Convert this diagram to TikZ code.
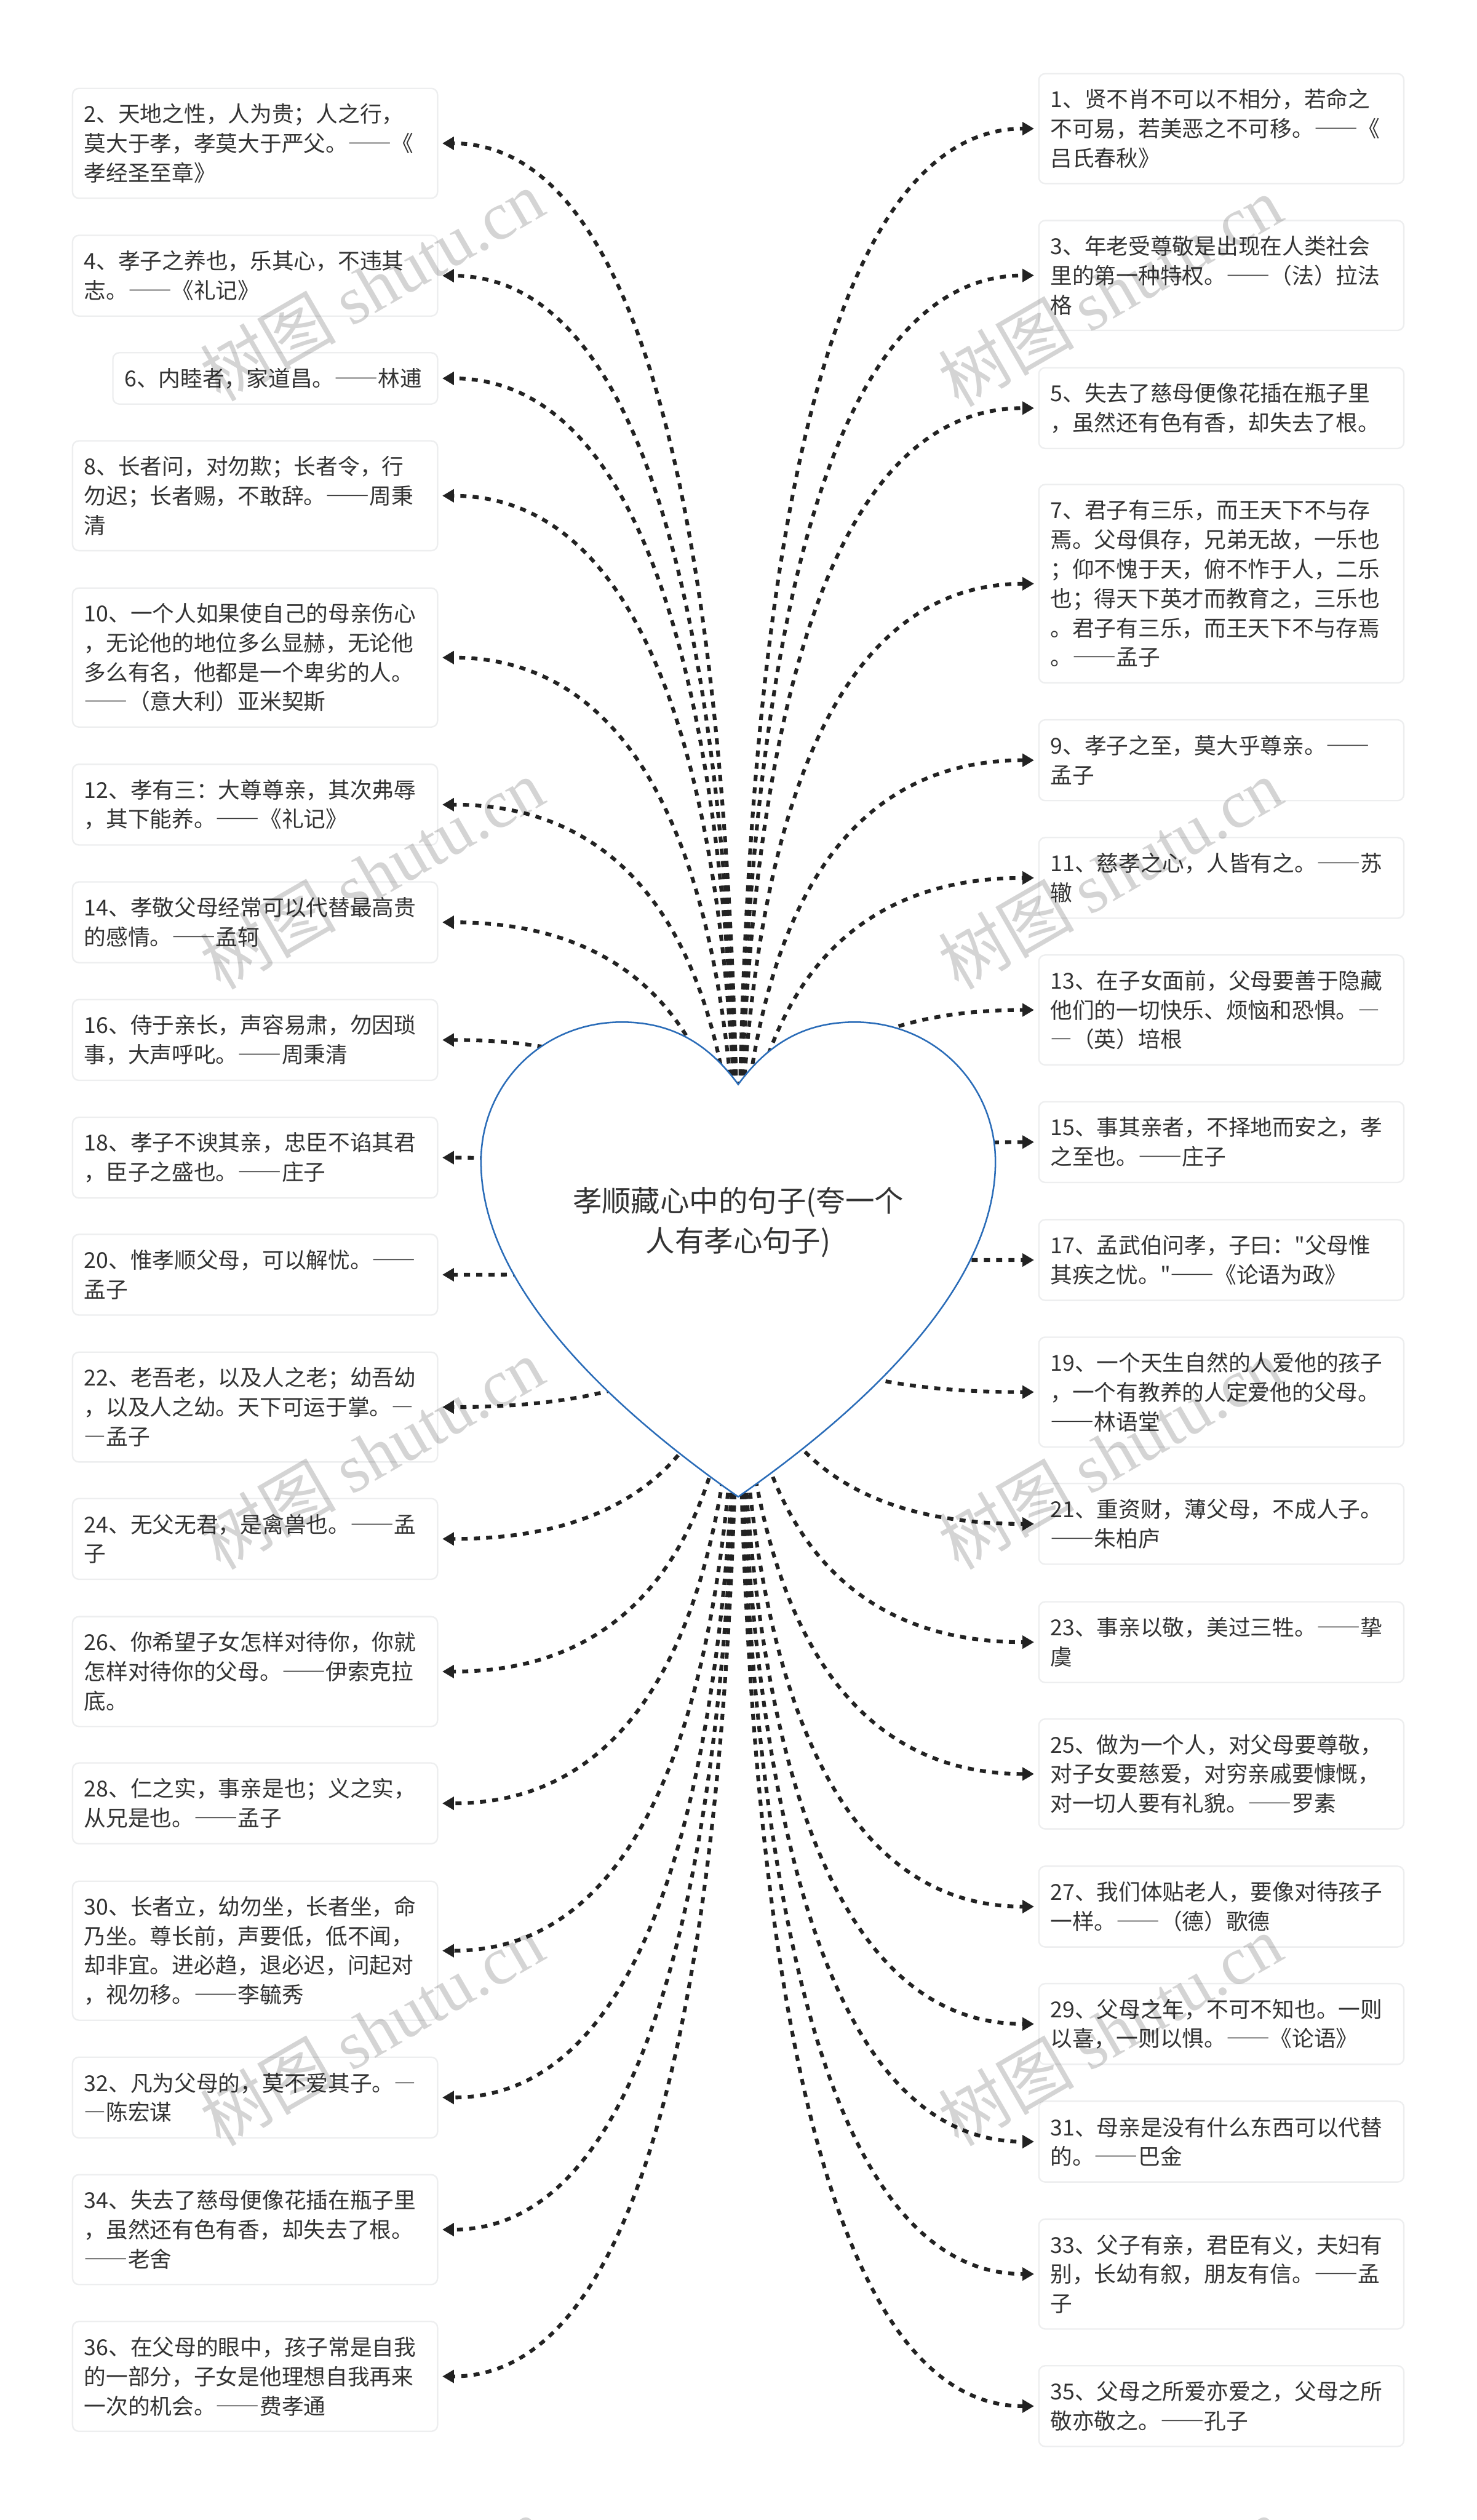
\documentclass[tikz,border=0pt]{standalone}
\usepackage{fontspec}
\usepackage{newunicodechar}
\newfontfamily\cjkfont{Noto Sans CJK SC}
\newfontfamily\dashfont[RawFeature=+fwid]{Noto Sans CJK SC}
\newfontfamily\wmlatin{Liberation Serif}
\newunicodechar{—}{{\dashfont\symbol{"2014}}}
\usetikzlibrary{arrows.meta,calc}
\definecolor{heartblue}{HTML}{2A6CB8}
\definecolor{cardline}{HTML}{EDEEEF}
\definecolor{inkgray}{HTML}{333333}
\definecolor{linkgray}{HTML}{222222}
\tikzset{
    card/.style={draw=cardline,line width=0.025cm,rounded corners=0.11cm,fill=white,
        text=inkgray,align=left,text width=5.93cm,inner xsep=0.2cm,inner ysep=0cm,
        minimum height=#1,font=\cjkfont\fontsize{10.84pt}{14.51pt}\selectfont},
    leftcard/.style={card=#1,anchor=east},
    rightcard/.style={card=#1,anchor=west},
    link/.style={draw=linkgray,line width=0.065cm,dash pattern=on 0.105cm off 0.108cm,
        -{Triangle[length=0.2cm,width=0.22cm]},shorten >=0.07cm,
        to path={.. controls ($(\tikztostart)!2/3!(\tikztostart |- \tikztotarget)$)
            and ($(\tikztotarget)!2/3!(\tikztostart |- \tikztotarget)$) .. (\tikztotarget)}},
    heartline/.style={draw=heartblue,line width=0.027cm,fill=white},
    roottext/.style={text=inkgray,align=center,font=\cjkfont\fontsize{14.4pt}{19.9pt}\selectfont},
    wmark/.style={text=black,text opacity=0.17,rotate=30,inner sep=0pt,
        font=\cjkfont\fontsize{33.5pt}{33.5pt}\selectfont}
}
\begin{document}
\begin{tikzpicture}
    \clip (0,0) rectangle (25.60,-43.69);
    \node[inner sep=0pt,minimum width=8.92cm,minimum height=8.23cm] (heart) at (12.80,-21.84) {};

    \node[leftcard=1.905cm] (q2) at (7.60,-2.485) {2、天地之性，人为贵；人之行，\\莫大于孝，孝莫大于严父。——《\\孝经圣至章》};
    \node[leftcard=1.40cm] (q4) at (7.60,-4.78) {4、孝子之养也，乐其心，不违其\\志。——《礼记》};
    \node[leftcard=0.89cm,text width=5.23cm] (q6) at (7.60,-6.56) {6、内睦者，家道昌。——林逋};
    \node[leftcard=1.905cm] (q8) at (7.60,-8.595) {8、长者问，对勿欺；长者令，行\\勿迟；长者赐，不敢辞。——周秉\\清};
    \node[leftcard=2.41cm] (q10) at (7.60,-11.40) {10、一个人如果使自己的母亲伤心\\，无论他的地位多么显赫，无论他\\多么有名，他都是一个卑劣的人。\\——（意大利）亚米契斯};
    \node[leftcard=1.40cm] (q12) at (7.60,-13.95) {12、孝有三：大尊尊亲，其次弗辱\\，其下能养。——《礼记》};
    \node[leftcard=1.40cm] (q14) at (7.60,-15.99) {14、孝敬父母经常可以代替最高贵\\的感情。——孟轲};
    \node[leftcard=1.40cm] (q16) at (7.60,-18.03) {16、侍于亲长，声容易肃，勿因琐\\事，大声呼叱。——周秉清};
    \node[leftcard=1.40cm] (q18) at (7.60,-20.07) {18、孝子不谀其亲，忠臣不谄其君\\，臣子之盛也。——庄子};
    \node[leftcard=1.40cm] (q20) at (7.60,-22.10) {20、惟孝顺父母，可以解忧。——\\孟子};
    \node[leftcard=1.905cm] (q22) at (7.60,-24.395) {22、老吾老，以及人之老；幼吾幼\\，以及人之幼。天下可运于掌。—\\—孟子};
    \node[leftcard=1.40cm] (q24) at (7.60,-26.68) {24、无父无君，是禽兽也。——孟\\子};
    \node[leftcard=1.905cm] (q26) at (7.60,-28.98) {26、你希望子女怎样对待你，你就\\怎样对待你的父母。——伊索克拉\\底。};
    \node[leftcard=1.40cm] (q28) at (7.60,-31.265) {28、仁之实，事亲是也；义之实，\\从兄是也。——孟子};
    \node[leftcard=2.41cm] (q30) at (7.60,-33.82) {30、长者立，幼勿坐，长者坐，命\\乃坐。尊长前，声要低，低不闻，\\却非宜。进必趋，退必迟，问起对\\，视勿移。——李毓秀};
    \node[leftcard=1.40cm] (q32) at (7.60,-36.365) {32、凡为父母的，莫不爱其子。—\\—陈宏谋};
    \node[leftcard=1.905cm] (q34) at (7.60,-38.655) {34、失去了慈母便像花插在瓶子里\\，虽然还有色有香，却失去了根。\\——老舍};
    \node[leftcard=1.905cm] (q36) at (7.60,-41.20) {36、在父母的眼中，孩子常是自我\\的一部分，子女是他理想自我再来\\一次的机会。——费孝通};

    \node[rightcard=1.905cm] (q1) at (18.00,-2.23) {1、贤不肖不可以不相分，若命之\\不可易，若美恶之不可移。——《\\吕氏春秋》};
    \node[rightcard=1.905cm] (q3) at (18.00,-4.775) {3、年老受尊敬是出现在人类社会\\里的第一种特权。——（法）拉法\\格};
    \node[rightcard=1.40cm] (q5) at (18.00,-7.075) {5、失去了慈母便像花插在瓶子里\\，虽然还有色有香，却失去了根。};
    \node[rightcard=3.44cm] (q7) at (18.00,-10.12) {7、君子有三乐，而王天下不与存\\焉。父母俱存，兄弟无故，一乐也\\；仰不愧于天，俯不怍于人，二乐\\也；得天下英才而教育之，三乐也\\。君子有三乐，而王天下不与存焉\\。——孟子};
    \node[rightcard=1.40cm] (q9) at (18.00,-13.18) {9、孝子之至，莫大乎尊亲。——\\孟子};
    \node[rightcard=1.40cm] (q11) at (18.00,-15.22) {11、慈孝之心，人皆有之。——苏\\辙};
    \node[rightcard=1.905cm] (q13) at (18.00,-17.51) {13、在子女面前，父母要善于隐藏\\他们的一切快乐、烦恼和恐惧。—\\—（英）培根};
    \node[rightcard=1.40cm] (q15) at (18.00,-19.80) {15、事其亲者，不择地而安之，孝\\之至也。——庄子};
    \node[rightcard=1.40cm] (q17) at (18.00,-21.845) {17、孟武伯问孝，子曰："父母惟\\其疾之忧。"——《论语为政》};
    \node[rightcard=1.905cm] (q19) at (18.00,-24.135) {19、一个天生自然的人爱他的孩子\\，一个有教养的人定爱他的父母。\\——林语堂};
    \node[rightcard=1.40cm] (q21) at (18.00,-26.42) {21、重资财，薄父母，不成人子。\\——朱柏庐};
    \node[rightcard=1.40cm] (q23) at (18.00,-28.47) {23、事亲以敬，美过三牲。——挚\\虞};
    \node[rightcard=1.905cm] (q25) at (18.00,-30.755) {25、做为一个人，对父母要尊敬，\\对子女要慈爱，对穷亲戚要慷慨，\\对一切人要有礼貌。——罗素};
    \node[rightcard=1.40cm] (q27) at (18.00,-33.055) {27、我们体贴老人，要像对待孩子\\一样。——（德）歌德};
    \node[rightcard=1.40cm] (q29) at (18.00,-35.09) {29、父母之年，不可不知也。一则\\以喜，一则以惧。——《论语》};
    \node[rightcard=1.40cm] (q31) at (18.00,-37.13) {31、母亲是没有什么东西可以代替\\的。——巴金};
    \node[rightcard=1.905cm] (q33) at (18.00,-39.425) {33、父子有亲，君臣有义，夫妇有\\别，长幼有叙，朋友有信。——孟\\子};
    \node[rightcard=1.40cm] (q35) at (18.00,-41.715) {35、父母之所爱亦爱之，父母之所\\敬亦敬之。——孔子};

    \draw[link] (heart.center) to (q1.west);
    \draw[link] (heart.center) to (q2.east);
    \draw[link] (heart.center) to (q3.west);
    \draw[link] (heart.center) to (q4.east);
    \draw[link] (heart.center) to (q5.west);
    \draw[link] (heart.center) to (q6.east);
    \draw[link] (heart.center) to (q7.west);
    \draw[link] (heart.center) to (q8.east);
    \draw[link] (heart.center) to (q9.west);
    \draw[link] (heart.center) to (q10.east);
    \draw[link] (heart.center) to (q11.west);
    \draw[link] (heart.center) to (q12.east);
    \draw[link] (heart.center) to (q13.west);
    \draw[link] (heart.center) to (q14.east);
    \draw[link] (heart.center) to (q15.west);
    \draw[link] (heart.center) to (q16.east);
    \draw[link] (heart.center) to (q17.west);
    \draw[link] (heart.center) to (q18.east);
    \draw[link] (heart.center) to (q19.west);
    \draw[link] (heart.center) to (q20.east);
    \draw[link] (heart.center) to (q21.west);
    \draw[link] (heart.center) to (q22.east);
    \draw[link] (heart.center) to (q23.west);
    \draw[link] (heart.center) to (q24.east);
    \draw[link] (heart.center) to (q25.west);
    \draw[link] (heart.center) to (q26.east);
    \draw[link] (heart.center) to (q27.west);
    \draw[link] (heart.center) to (q28.east);
    \draw[link] (heart.center) to (q29.west);
    \draw[link] (heart.center) to (q30.east);
    \draw[link] (heart.center) to (q31.west);
    \draw[link] (heart.center) to (q32.east);
    \draw[link] (heart.center) to (q33.west);
    \draw[link] (heart.center) to (q34.east);
    \draw[link] (heart.center) to (q35.west);
    \draw[link] (heart.center) to (q36.east);

    \draw[heartline]
        (12.80,-18.80) .. controls (13.35,-18.05) and (14.00,-17.72) .. (14.82,-17.72)
                       .. controls (16.20,-17.72) and (17.26,-18.80) .. (17.26,-20.14)
                       .. controls (17.26,-22.40) and (14.80,-24.55) .. (12.80,-25.95)
                       .. controls (10.80,-24.55) and (8.34,-22.40) .. (8.34,-20.14)
                       .. controls (8.34,-18.80) and (9.40,-17.72) .. (10.78,-17.72)
                       .. controls (11.60,-17.72) and (12.25,-18.05) .. (12.80,-18.80) -- cycle;
    \node[roottext] (root) at (12.80,-21.19) {孝顺藏心中的句子(夸一个\\人有孝心句子)};

    \node[wmark] (wm1) at (6.45,-4.95) {树图 {\wmlatin shutu.cn}};
    \node[wmark] (wm2) at (6.45,-15.15) {树图 {\wmlatin shutu.cn}};
    \node[wmark] (wm3) at (6.45,-25.20) {树图 {\wmlatin shutu.cn}};
    \node[wmark] (wm4) at (6.45,-35.20) {树图 {\wmlatin shutu.cn}};
    \node[wmark] (wm5) at (6.45,-45.30) {树图 {\wmlatin shutu.cn}};
    \node[wmark] (wm6) at (19.25,-5.05) {树图 {\wmlatin shutu.cn}};
    \node[wmark] (wm7) at (19.25,-15.15) {树图 {\wmlatin shutu.cn}};
    \node[wmark] (wm8) at (19.25,-25.20) {树图 {\wmlatin shutu.cn}};
    \node[wmark] (wm9) at (19.25,-35.20) {树图 {\wmlatin shutu.cn}};
    \node[wmark] (wm10) at (19.25,-45.30) {树图 {\wmlatin shutu.cn}};
\end{tikzpicture}
\end{document}
